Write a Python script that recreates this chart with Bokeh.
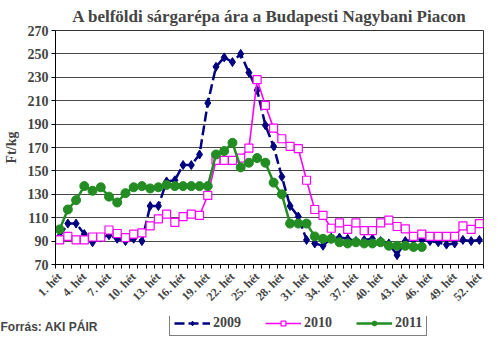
import math
from bokeh.plotting import figure
from bokeh.layouts import column
from bokeh.models import (Range1d, FixedTicker, Label, Legend, LegendItem)
from bokeh.embed import file_html
from bokeh.resources import INLINE

# ---- data ----
weeks = list(range(1, 53))
y2009 = [94, 105, 105, 96, 89, 93, 95, 92, 90, 92, 90, 120, 120, 141, 142, 155, 155, 164, 208, 239,
         247, 243, 250, 234, 219, 189, 171, 145, 120, 111, 91, 88, 86, 93, 93, 92, 90, 91, 92, 90,
         88, 78, 90, 91, 91, 90, 89, 87, 88, 91, 90, 91]
y2010 = [91, 94, 91, 91, 93.5, 93.5, 99.5, 96.5, 93, 96, 97, 103, 109, 113, 106, 111, 113, 112, 129, 159,
         159, 159, 161, 169.5, 228, 206, 186.5, 177.5, 171, 169, 142, 117, 112, 101, 105.5, 100, 105.5, 99, 99, 105.5,
         108, 102.5, 100.5, 94, 96, 94, 94, 94, 94, 103, 100, 105]
y2011 = [100, 117, 125, 137, 133, 136, 128, 123, 131, 136, 137, 135, 136, 138, 137, 137, 137, 137, 137, 164,
         167, 174, 153, 157, 161, 157, 140, 130, 105, 105, 105, 94, 92, 92, 89, 88, 89, 88, 88, 89,
         86, 86, 86, 85, 85]
label_weeks = [1, 4, 7, 10, 13, 16, 19, 22, 25, 28, 31, 34, 37, 40, 43, 46, 49, 52]
week_labels = ["1. hét", "4. hét", "7. hét", "10. hét", "13. hét", "16. hét", "19. hét", "22. hét",
               "25. hét", "28. hét", "31. hét", "34. hét", "37. hét", "40. hét", "43. hét", "46. hét",
               "49. hét", "52. hét"]
y_ticks = [70, 90, 110, 130, 150, 170, 190, 210, 230, 250, 270]
series_names = ["2009", "2010", "2011"]
title_text = "A belföldi sárgarépa ára a Budapesti Nagybani Piacon"
y_title = "Ft/kg"
source_text = "Forrás: AKI PÁIR"

SERIF = "Liberation Serif"
SANS = "Liberation Sans"
NAVY = "#000080"
MAG = "#FF00FF"
GREEN = "#238C23"

w11 = weeks[:len(y2011)]


def draw_series(fig):
    r = []
    r.append(fig.line(weeks, y2009, line_color=NAVY, line_width=2.5, line_dash="10 4"))
    r.append(fig.scatter(weeks, y2009, marker="diamond", size=9, fill_color=NAVY, line_color=NAVY))
    r.append(fig.line(weeks, y2010, line_color=MAG, line_width=1.6))
    r.append(fig.scatter(weeks, y2010, marker="square", size=8, fill_color="white", line_color=MAG, line_width=1.2))
    r.append(fig.line(w11, y2011, line_color=GREEN, line_width=2.5))
    r.append(fig.scatter(w11, y2011, marker="circle", size=9, fill_color=GREEN, line_color=GREEN))
    return r


p = figure(width=484, height=316, output_backend="svg", toolbar_location=None,
           x_range=Range1d(0.5, 52.5), y_range=Range1d(70, 270),
           min_border_left=50, min_border_right=1, min_border_top=0, min_border_bottom=52)
p.background_fill_color = "white"
p.border_fill_color = "white"
p.outline_line_color = "#333333"

p.title.text = title_text
p.title.align = "center"
p.title.text_font = SERIF
p.title.text_font_style = "bold"
p.title.text_font_size = "17px"
p.title.standoff = 9
p.title.offset = -6

# axes
xa = p.xaxis[0]
xa.ticker = FixedTicker(ticks=label_weeks, minor_ticks=[w - 0.5 for w in weeks] + [weeks[-1] + 0.5])
xa.major_label_overrides = {w: l for w, l in zip(label_weeks, week_labels)}
xa.major_label_orientation = math.pi / 4
xa.major_tick_line_color = None
xa.minor_tick_in = 0
xa.minor_tick_out = 4
xa.minor_tick_line_color = "black"
xa.axis_line_color = "black"
xa.major_label_text_font = SERIF
xa.major_label_text_font_style = "bold"
xa.major_label_text_font_size = "12px"
xa.major_label_standoff = 4

ya = p.yaxis[0]
ya.ticker = FixedTicker(ticks=y_ticks)
ya.major_tick_in = 0
ya.major_tick_out = 4
ya.minor_tick_line_color = None
ya.axis_line_color = "black"
ya.major_label_text_font = SERIF
ya.major_label_text_font_style = "bold"
ya.major_label_text_font_size = "14px"
ya.major_label_standoff = 3
ya.axis_label = y_title
ya.axis_label_text_font = SERIF
ya.axis_label_text_font_style = "bold"
ya.axis_label_text_font_size = "14px"
ya.axis_label_standoff = 6

p.xgrid.grid_line_color = None
p.ygrid.ticker = FixedTicker(ticks=y_ticks)
p.ygrid.grid_line_color = "#4a4a4a"
p.ygrid.grid_line_width = 1

draw_series(p)

# footer figure with source and legend (series drawn outside its visible range, used only for legend glyphs)
f = figure(width=484, height=20, output_backend="svg", toolbar_location=None,
           x_range=Range1d(0, 1), y_range=Range1d(0, 1),
           x_axis_location=None, y_axis_location=None,
           min_border_left=0, min_border_right=0, min_border_top=0, min_border_bottom=0)
f.grid.visible = False
f.outline_line_color = None
fr = draw_series(f)

# the column aligns plot frames; disable when possible, otherwise compensate
shift = 0
if "frame_align" in f.properties():
    f.frame_align = False
    p.frame_align = False
else:
    shift = 50

legend = Legend(items=[
    LegendItem(label=series_names[0], renderers=[fr[0], fr[1]]),
    LegendItem(label=series_names[1], renderers=[fr[2], fr[3]]),
    LegendItem(label=series_names[2], renderers=[fr[4], fr[5]]),
], orientation="horizontal", location=(169 - shift, 0))
legend.label_text_font = SERIF
legend.label_text_font_style = "bold"
legend.label_text_font_size = "14px"
legend.glyph_width = 36
legend.glyph_height = 12
legend.label_standoff = 3
legend.spacing = 24
legend.padding = 4
legend.label_height = 12
legend.margin = 0
legend.border_line_color = "black"
legend.border_line_width = 1
legend.background_fill_alpha = 1
f.add_layout(legend)

f.add_layout(Label(x=0 - shift, y=10, x_units="screen", y_units="screen", text=source_text,
                   text_font=SANS, text_font_style="bold", text_font_size="12px",
                   text_align="left", text_baseline="middle"))

layout = column(p, f, spacing=0)
open("out.html", "w").write(file_html(layout, INLINE))
